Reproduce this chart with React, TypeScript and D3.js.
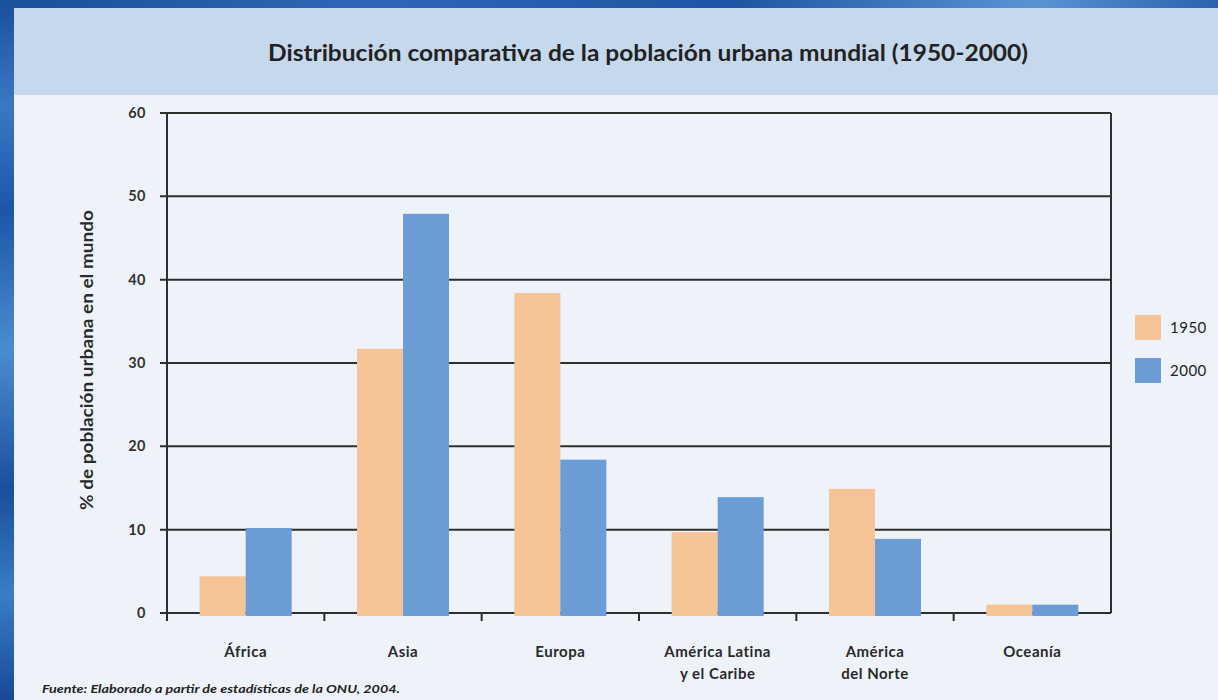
import React from "react";
import * as d3 from "d3";

const categories = ["África", "Asia", "Europa", "América Latina\ny el Caribe", "América\ndel Norte", "Oceanía"];
const series = ["1950", "2000"];
const values1950 = [4.4, 31.7, 38.4, 9.7, 14.9, 1.0];
const values2000 = [10.2, 47.9, 18.4, 13.9, 8.9, 1.0];
const yTicks = [0, 10, 20, 30, 40, 50, 60];
const colors = ["#f4c497", "#6b9cd6"];

const W = 1218, H = 700;
const plot = { left: 167, right: 1111, top: 113, bottom: 613 };
const font = "Lato, 'Open Sans', sans-serif";

export default function App() {
  const x = d3.scaleBand<string>().domain(categories).range([plot.left, plot.right]).paddingInner(0).paddingOuter(0);
  const y = d3.scaleLinear().domain([0, 60]).range([plot.bottom, plot.top]);
  const groupW = 92;
  const xs = d3.scaleBand<string>().domain(series).range([0, groupW]);
  const data = [values1950, values2000];

  return (
    <svg width={W} height={H} style={{ position: "absolute", left: 0, top: 0 }} fontFamily={font}>
      <defs>
        <linearGradient id="lb" x1="0" y1="0" x2="0" y2="1">
          <stop offset="0" stopColor="#1a4f9a" />
          <stop offset="0.15" stopColor="#3a78c4" />
          <stop offset="0.3" stopColor="#1d56a8" />
          <stop offset="0.5" stopColor="#4b8bd0" />
          <stop offset="0.7" stopColor="#1a4f9e" />
          <stop offset="0.85" stopColor="#3b7cc6" />
          <stop offset="1" stopColor="#174a96" />
        </linearGradient>
        <linearGradient id="tb" x1="0" y1="0" x2="1" y2="0">
          <stop offset="0" stopColor="#1a4f9a" />
          <stop offset="0.3" stopColor="#2e68b4" />
          <stop offset="0.6" stopColor="#1e55a2" />
          <stop offset="0.85" stopColor="#5b93d2" />
          <stop offset="1" stopColor="#2a62ae" />
        </linearGradient>
      </defs>
      <rect x={0} y={0} width={W} height={H} fill="#eef3fa" />
      <rect x={0} y={8} width={W} height={87} fill="#c6d8eb" />
      <rect x={0} y={0} width={W} height={8} fill="url(#tb)" />
      <rect x={0} y={0} width={14} height={H} fill="url(#lb)" />

      <text x={268} y={61} fontSize={23.5} fontWeight="bold" fill="#222" textLength={760} lengthAdjust="spacingAndGlyphs">
        Distribución comparativa de la población urbana mundial (1950-2000)
      </text>

      {/* gridlines */}
      {yTicks.map((t) => (
        <g key={t}>
          <line x1={plot.left - 7} x2={plot.right} y1={y(t)} y2={y(t)} stroke="#2e2e2e" strokeWidth={2} />
          <text x={146} y={y(t) + 5} textAnchor="end" fontSize={14.5} fontWeight="bold" fill="#333" letterSpacing={0.5}>{t}</text>
        </g>
      ))}
      <line x1={plot.left} x2={plot.left} y1={plot.top} y2={plot.bottom + 8} stroke="#2e2e2e" strokeWidth={2} />
      <line x1={plot.right} x2={plot.right} y1={plot.top} y2={plot.bottom} stroke="#2e2e2e" strokeWidth={2} />
      {categories.slice(1).map((c) => (
        <line key={c} x1={x(c)!} x2={x(c)!} y1={plot.bottom} y2={plot.bottom + 8} stroke="#2e2e2e" strokeWidth={2} />
      ))}

      {/* bars */}
      {categories.map((c, i) => {
        const gx = x(c)! + (x.bandwidth() - groupW) / 2;
        return series.map((s, k) => (
          <rect key={c + s} x={gx + xs(s)!} y={y(data[k][i])} width={xs.bandwidth()}
            height={y(0) - y(data[k][i]) + 3} fill={colors[k]} />
        ));
      })}

      {/* category labels */}
      {categories.map((c) => {
        const lines = c.split("\n");
        const cx = x(c)! + x.bandwidth() / 2;
        return (
          <text key={c} x={cx} y={657} textAnchor="middle" fontSize={15} fontWeight="bold" fill="#2a2a2a" letterSpacing={0.5}>
            {lines.map((l, j) => (
              <tspan key={j} x={cx} dy={j === 0 ? 0 : 22}>{l}</tspan>
            ))}
          </text>
        );
      })}

      {/* y label */}
      <text transform={`translate(93,360) rotate(-90)`} textAnchor="middle" fontSize={16.5} fontWeight="bold" fill="#2a2a2a" textLength={300} lengthAdjust="spacingAndGlyphs">
        % de población urbana en el mundo
      </text>

      {/* legend */}
      {series.map((s, k) => (
        <g key={s}>
          <rect x={1135} y={315 + k * 43} width={26} height={25} fill={colors[k]} />
          <text x={1170} y={333 + k * 43} fontSize={15} fill="#222" letterSpacing={0.5}>{s}</text>
        </g>
      ))}

      <text x={42} y={693} fontSize={12} fontStyle="italic" fontWeight="bold" fill="#222" textLength={358} lengthAdjust="spacingAndGlyphs">
        Fuente: Elaborado a partir de estadísticas de la ONU, 2004.
      </text>
    </svg>
  );
}
